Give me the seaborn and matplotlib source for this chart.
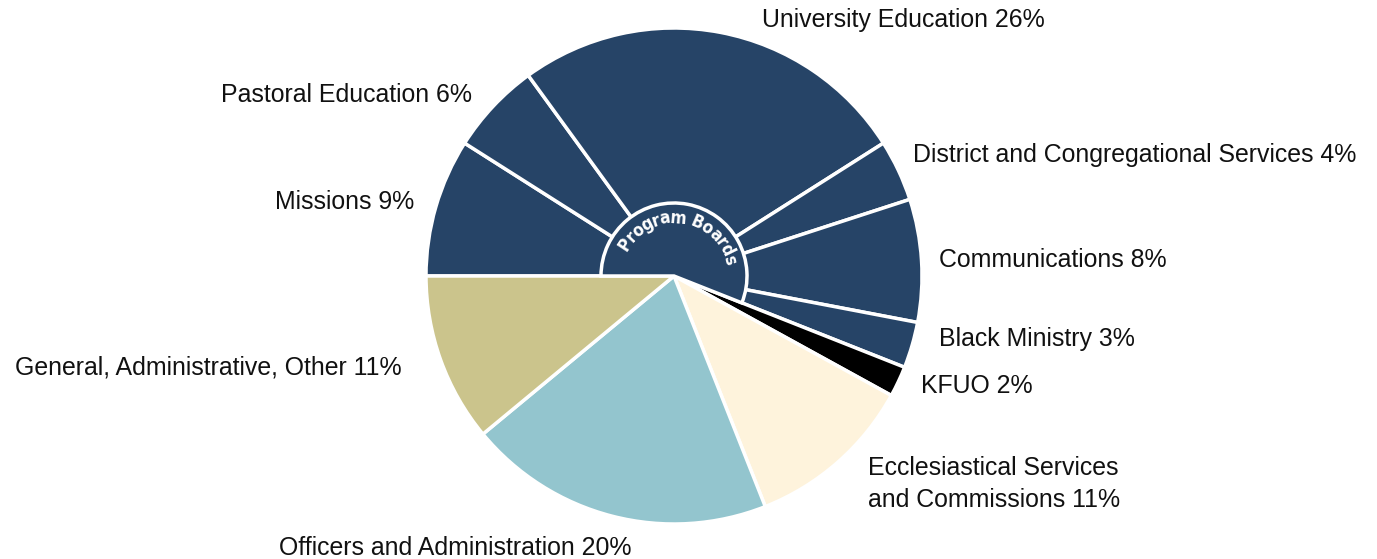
import numpy as np
import matplotlib
matplotlib.use("Agg")
import matplotlib.pyplot as plt
import seaborn as sns
from matplotlib.patches import Wedge
from matplotlib.textpath import TextToPath
from matplotlib.font_manager import FontProperties

# Data, clockwise from the left
categories = ["Missions", "Pastoral Education", "University Education",
              "District and Congregational Services", "Communications",
              "Black Ministry", "KFUO", "Ecclesiastical Services\nand Commissions",
              "Officers and Administration", "General, Administrative, Other"]
shares = [9, 6, 26, 4, 8, 3, 2, 11, 20, 11]
program_boards = [True, True, True, True, True, True, False, False, False, False]

navy = "#264467"
slice_colors = [navy, navy, navy, navy, navy, navy, "#000000", "#FEF3DC", "#93C5CE", "#CBC48C"]

sns.set_theme(style="white")
plt.rcParams["font.family"] = ["Liberation Sans", "DejaVu Sans"]

W, H = 1377, 559
fig = plt.figure(figsize=(W / 100, H / 100), dpi=100)
ax = fig.add_axes([0, 0, 1, 1])

cx, cy, R = 674, H - 276, 248
wedges, _ = ax.pie(shares, colors=slice_colors, startangle=180, counterclock=False,
                   radius=R, center=(cx, cy),
                   wedgeprops=dict(edgecolor="white", linewidth=2.5))

# inner "Program Boards" hub covering the program board slices
pb_total = sum(s for s, p in zip(shares, program_boards) if p)
end_angle = 180 - pb_total * 3.6
hub = Wedge((cx, cy), 73, end_angle, 180, facecolor=navy, edgecolor="white", linewidth=2.5)
ax.add_patch(hub)

# curved hub label
hub_text = "Program Boards"
fp = FontProperties(family="DejaVu Sans", weight="bold", stretch="condensed", size=12.5)
t2p = TextToPath()
widths = [t2p.get_text_width_height_descent(ch, fp, ismath=False)[0] * 100 / 72 for ch in hub_text]
r_text = 58
total = sum(widths)
theta0 = 82 + np.degrees(total / 2 / r_text)
pos = 0
for ch, w in zip(hub_text, widths):
    ang = theta0 - np.degrees((pos + w / 2) / r_text)
    pos += w
    x = cx + r_text * np.cos(np.radians(ang))
    y = cy + r_text * np.sin(np.radians(ang))
    ax.text(x, y, ch, rotation=ang - 90, ha="center", va="center", color="white",
            fontproperties=fp, rotation_mode="anchor")

# outside labels (pixel layout, y from top)
label_layout = [
    (414, 202, "right"), (472, 95, "right"), (762, 20, "left"), (913, 155, "left"),
    (939, 260, "left"), (939, 339, "left"), (921, 386, "left"), (868, 484, "left"),
    (455, 548, "center"), (402, 368, "right"),
]
for name, share, (lx, ly, ha) in zip(categories, shares, label_layout):
    ax.text(lx, H - ly, f"{name} {share}%", ha=ha, va="center", fontsize=17.9,
            color="#111111", linespacing=1.42)

ax.set_xlim(0, W)
ax.set_ylim(0, H)
ax.set_aspect("equal")
ax.axis("off")
fig.savefig("out.png", dpi=100, facecolor="white")
